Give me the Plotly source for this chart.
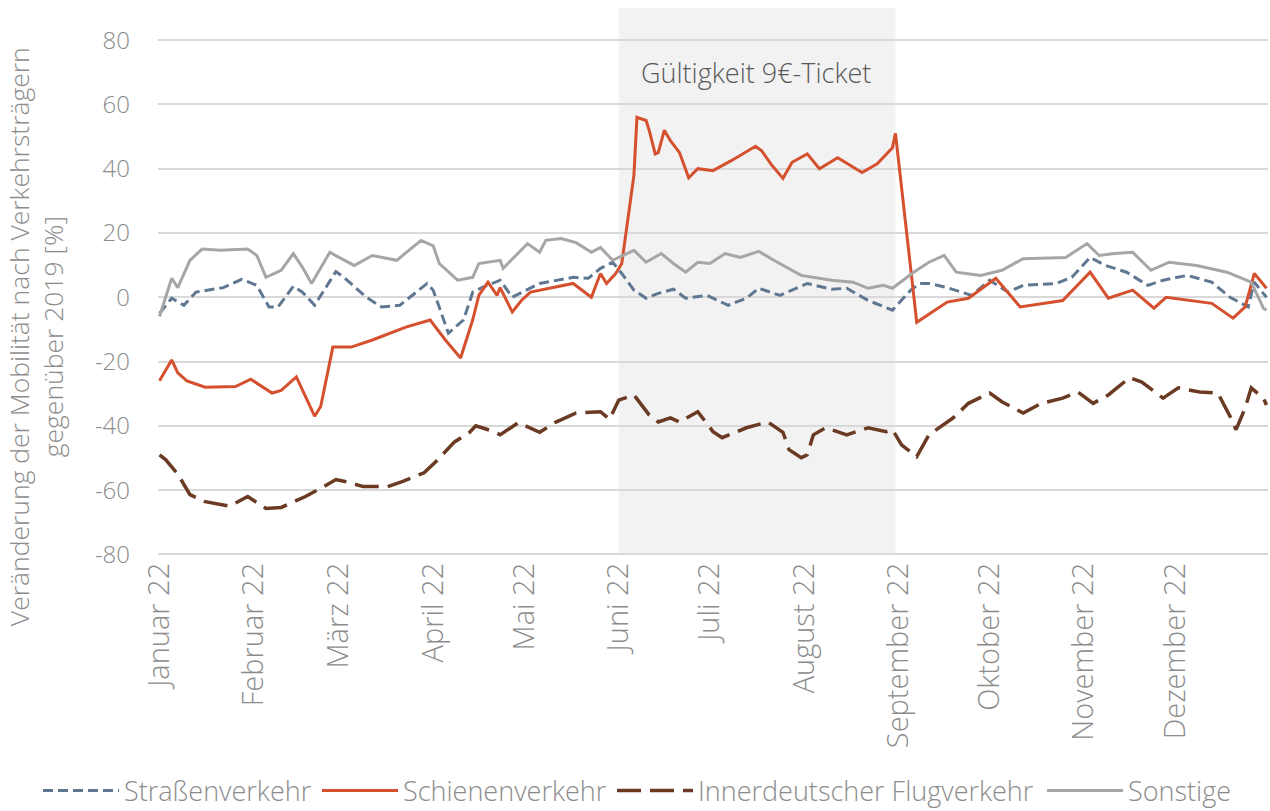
import pandas as pd
import plotly.graph_objects as go

# ---- data (day offset from 1 Jan 2022, value in % vs 2019) ----
month_starts = ["2022-01-01", "2022-02-01", "2022-03-01", "2022-04-01", "2022-05-01", "2022-06-01",
                "2022-07-01", "2022-08-01", "2022-09-01", "2022-10-01", "2022-11-01", "2022-12-01"]
month_labels = ["Januar 22", "Februar 22", "März 22", "April 22", "Mai 22", "Juni 22",
                "Juli 22", "August 22", "September 22", "Oktober 22", "November 22", "Dezember 22"]
y_ticks = [-80, -60, -40, -20, 0, 20, 40, 60, 80]
y_tick_text = ["-80", "-60", "-40", "-20", "0", "20", "40", "60", "80"]

strasse_day = [0, 4, 8, 12, 21, 27, 32, 36, 39, 44, 47, 51, 58, 61, 68, 73, 79, 88, 90, 95, 100, 103, 106,
               112, 116, 125, 136, 141, 145, 149, 152, 156, 160, 164, 169, 173, 180, 187, 193, 197, 204, 213,
               221, 226, 233, 241, 247, 250, 253, 259, 267, 273, 279, 284, 295, 300, 306, 311, 318, 325, 330,
               338, 346, 352, 358, 360, 364]
strasse = [-5, -0.3, -2.5, 1.6, 3, 5.6, 3.7, -3, -3, 3.4, 1.6, -2.5, 8, 5.9, 0, -3, -2.5, 4.3, 2.2, -11.2, -7,
           1.6, 3, 5.3, 0, 4.3, 6.2, 5.9, 9, 10.9, 7.4, 2.2, -0.3, 1.2, 2.5, -0.3, 0.6, -2.5, -0.3, 2.8, 0.6,
           4.3, 2.5, 2.8, -1, -4, 2.2, 4.3, 4.3, 3, 0.6, 5.3, 1.6, 3.7, 4.3, 6.2, 12.4, 9.9, 7.8, 3.7, 5.3,
           6.8, 4.7, 0, -3, 4.7, 0]

schiene_day = [0, 4, 6, 9, 15, 25, 30, 37, 40, 45, 51, 53, 57, 63, 70, 81, 89, 94, 99, 103, 105, 108, 111, 112,
               116, 119, 122, 136, 142, 145, 147, 150, 152, 156, 157, 160, 161, 163, 164, 166, 168, 171, 174,
               177, 182, 188, 196, 198, 201, 205, 208, 213, 217, 223, 231, 236, 241, 242, 249, 259, 266, 275,
               283, 297, 306, 312, 320, 327, 331, 346, 353, 357, 360, 364]
schiene = [-26, -19.5, -23.5, -26, -28, -27.8, -25.5, -29.8, -29, -24.8, -37, -34, -15.5, -15.5, -13.3, -9.3,
           -7.1, -13.3, -18.9, -7, 0.6, 4.7, 0.6, 3, -4.6, -1, 1.6, 4.3, 0, 7.4, 4.3, 7.4, 10.5, 38, 56, 55,
           52, 44.6, 45, 52, 48.7, 45, 37.2, 40, 39.4, 42.5, 47, 45.6, 41.5, 37, 42, 44.6, 40, 43.4, 38.8,
           41.5, 46.5, 51, -7.8, -1.5, -0.3, 5.9, -3, -1, 7.8, -0.3, 2.2, -3.4, 0, -1.9, -6.5, -3, 7.4, 2.8]

flug_day = [0, 2, 6, 10, 15, 23, 29, 35, 40, 48, 54, 58, 61, 67, 75, 80, 87, 91, 97, 102, 104, 110, 112, 118,
            125, 130, 137, 145, 148, 151, 156, 161, 164, 168, 171, 177, 182, 185, 193, 200, 205, 207, 211, 213,
            215, 219, 226, 233, 239, 241, 244, 249, 253, 261, 266, 273, 277, 284, 290, 297, 302, 307, 312, 319,
            323, 330, 335, 342, 348, 352, 354, 357, 359, 363, 364]
flug = [-49, -50.5, -55, -61.4, -63.6, -65, -62, -65.7, -65.4, -62, -58.9, -56.7, -57.3, -58.9, -58.9, -57.3,
        -54.6, -51, -45, -42, -40, -41.8, -42.8, -39, -42, -39, -36, -35.6, -38, -32, -30.4, -36.6, -38.8,
        -37.5, -38.8, -35.6, -41.8, -43.7, -40.6, -38.8, -42, -47.4, -49.9, -49, -42.8, -40.6, -42.8, -40.6,
        -41.8, -41.2, -45.9, -49.6, -42.8, -37.5, -33, -29.8, -32.5, -36, -33, -31.4, -29.5, -33, -30.4, -25,
        -26.4, -31.4, -28.2, -29.5, -29.8, -37, -41.2, -34.4, -28.2, -31.4, -33.5]

sonstige_day = [0, 4, 6, 10, 14, 20, 29, 32, 35, 40, 44, 47, 50, 56, 59, 64, 70, 78, 86, 90, 92, 98, 103, 105,
                112, 113, 121, 125, 127, 132, 137, 142, 145, 149, 156, 160, 165, 169, 173, 177, 181, 186, 191,
                197, 202, 211, 221, 228, 233, 238, 241, 248, 253, 258, 262, 270, 277, 284, 298, 305, 309, 314,
                320, 326, 332, 341, 351, 359, 363, 364]
sonstige = [-6, 5.9, 3, 11.5, 15, 14.6, 15, 13, 6.2, 8.4, 13.6, 9.3, 4.3, 14, 12.4, 9.9, 13, 11.5, 17.7, 16,
            10.5, 5.3, 6.2, 10.5, 11.5, 9, 16.7, 14, 17.7, 18.3, 17, 14, 15.5, 11.5, 14.6, 10.9, 13.6, 10.5,
            7.8, 10.9, 10.5, 13.6, 12.4, 14.3, 11.5, 6.8, 5.3, 4.7, 2.8, 3.7, 2.8, 7.8, 10.9, 13, 7.8, 6.8,
            8.4, 12, 12.4, 16.7, 13, 13.6, 14, 8.4, 10.9, 9.9, 7.8, 4.7, -3.4, -4]

ticket_start, ticket_end = "2022-06-01", "2022-08-31"
ticket_label = "Gültigkeit 9€-Ticket"

base = pd.Timestamp("2022-01-01")


def to_dates(days):
    return base + pd.to_timedelta(days, unit="D")


FONT = "Open Sans"
GREY_TXT = "#8c8c8c"
W, H = 1270, 811

fig = go.Figure()

series = [
    ("Straßenverkehr", strasse_day, strasse, dict(color="#5f7790", width=3, dash="10px,5px"), "legend", 38),
    ("Schienenverkehr", schiene_day, schiene, dict(color="#d4502e", width=3), "legend2", 317),
    ("Innerdeutscher Flugverkehr", flug_day, flug, dict(color="#6b3a22", width=3.5, dash="24px,9px"), "legend3", 612),
    ("Sonstige", sonstige_day, sonstige, dict(color="#a6a6a6", width=3), "legend4", 1042),
]
legends = {}
for name, d, v, line, lg, lx in series:
    assert len(d) == len(v), name
    fig.add_trace(go.Scatter(x=to_dates(d), y=v, name=name, mode="lines", line=line, legend=lg))
    legends[lg] = dict(orientation="h", xref="container", yref="container", x=lx / W, xanchor="left",
                       y=1 - 791 / H, yanchor="middle", font=dict(family=FONT, size=27, color=GREY_TXT, weight=300),
                       itemwidth=76, bgcolor="rgba(0,0,0,0)", borderwidth=0)

fig.add_shape(type="rect", xref="x", yref="y", x0=ticket_start, x1=ticket_end, y0=-80, y1=90,
              fillcolor="#f2f2f2", line_width=0, layer="below")

fig.add_annotation(x=pd.Timestamp("2022-07-16"), y=70, xref="x", yref="y", text=ticket_label,
                   showarrow=False, font=dict(family=FONT, size=27, color="#595959", weight=300))

fig.add_annotation(xref="paper", yref="paper", x=-0.11, y=0.401, xanchor="center", yanchor="middle",
                   textangle=-90, showarrow=False,
                   text="Veränderung der Mobilität nach Verkehrsträgern<br>gegenüber 2019 [%]",
                   font=dict(family=FONT, size=26.5, color=GREY_TXT, weight=300))

fig.update_layout(
    width=W, height=H,
    margin=dict(l=158, r=2, t=8, b=255),
    paper_bgcolor="white", plot_bgcolor="white",
    font=dict(family=FONT, color=GREY_TXT, weight=300),
    showlegend=True,
    **legends,
)
fig.update_xaxes(
    type="date", range=[base - pd.Timedelta(hours=12), base + pd.Timedelta(days=364, hours=12)],
    tickmode="array", tickvals=month_starts, ticktext=month_labels, tickangle=-90,
    tickfont=dict(size=29, color=GREY_TXT, weight=300), showgrid=False, zeroline=False,
    showline=False, ticks="",
)
fig.update_yaxes(
    range=[-80.5, 90], tickmode="array", tickvals=y_ticks, ticktext=y_tick_text,
    tickfont=dict(size=24, color=GREY_TXT, weight=300), showgrid=True, gridcolor="#d9d9d9",
    gridwidth=2, zeroline=False, showline=False, ticklabelstandoff=27,
)

fig.write_html("out.html", config={"displayModeBar": False},
               post_script="document.body.style.margin='0';document.body.style.overflow='hidden';")
